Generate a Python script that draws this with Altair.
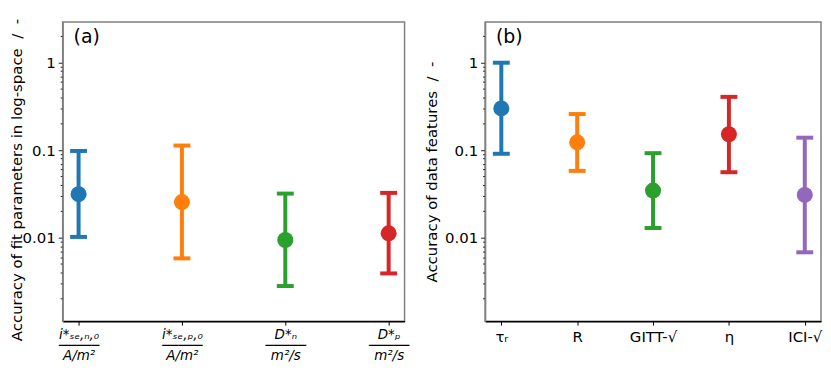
import altair as alt
import pandas as pd

# ---- data ----
labels_a = ["i*ₛₑ,ₙ,₀\n─────\nA/m²", "i*ₛₑ,ₚ,₀\n─────\nA/m²", "D*ₙ\n─────\nm²/s", "D*ₚ\n─────\nm²/s"]
center_a = [0.0314, 0.0255, 0.0094, 0.0112]
low_a = [0.0102, 0.0058, 0.0028, 0.0039]
high_a = [0.098, 0.113, 0.0319, 0.0325]

labels_b = ["τᵣ", "R", "GITT-√", "η", "ICI-√"]
center_b = [0.30, 0.123, 0.0345, 0.152, 0.0308]
low_b = [0.091, 0.058, 0.0129, 0.056, 0.0068]
high_b = [1.0, 0.259, 0.0925, 0.407, 0.139]

title_a = "Accuracy of fit parameters in log-space \u00a0/\u00a0 -"
title_b = "Accuracy of data features \u00a0/\u00a0 -"

colors = ["#1f77b4", "#ff7f0e", "#2ca02c", "#d62728", "#9467bd"]
y_ticks = [0.002, 0.003, 0.004, 0.005, 0.006, 0.007, 0.008, 0.009, 0.01,
           0.02, 0.03, 0.04, 0.05, 0.06, 0.07, 0.08, 0.09, 0.1,
           0.2, 0.3, 0.4, 0.5, 0.6, 0.7, 0.8, 0.9, 1, 2]
y_domain = [0.00111, 2.92]

FONT = "DejaVu Sans"
major_test = "datum.value == 1 || datum.value == 0.1 || datum.value == 0.01"


def panel(labels, center, low, high, tag, ytitle, padding, xaxis, title_y, title_pad, width):
    df = pd.DataFrame({"cat": labels, "c": center, "lo": low, "hi": high})
    xenc = alt.X("cat:N", sort=labels, scale=alt.Scale(type="point", padding=padding), axis=xaxis)
    yscale = alt.Scale(type="log", domain=y_domain, nice=False)
    yaxis = alt.Axis(
        title=ytitle, values=y_ticks, labelOverlap=False, grid=False,
        labelExpr="datum.value == 1 ? '1' : datum.value == 0.1 ? '0.1' : datum.value == 0.01 ? '0.01' : ''",
        tickSize={"condition": {"test": major_test, "value": 4.5}, "value": 2.5},
        tickColor="#222222", tickWidth=1, domainColor="#808080", domainWidth=1.5,
        labelFontSize=15, labelPadding=3, titleFontSize=15, titleFontWeight="normal",
        titleY=title_y, titlePadding=title_pad,
    )
    col = alt.Color("cat:N", scale=alt.Scale(domain=labels, range=colors[:len(labels)]), legend=None)
    base = alt.Chart(df)
    rule = base.mark_rule(strokeWidth=4).encode(
        x=xenc, y=alt.Y("lo:Q", scale=yscale, axis=yaxis), y2="hi:Q", color=col)
    cap_lo = base.mark_tick(thickness=4, size=17, opacity=1).encode(x=xenc, y=alt.Y("lo:Q", scale=yscale), color=col)
    cap_hi = base.mark_tick(thickness=4, size=17, opacity=1).encode(x=xenc, y=alt.Y("hi:Q", scale=yscale), color=col)
    dots = base.mark_circle(size=260, opacity=1).encode(x=xenc, y=alt.Y("c:Q", scale=yscale), color=col)
    txt = alt.Chart(pd.DataFrame({"t": [tag]})).mark_text(
        align="left", baseline="alphabetic", fontSize=19, font=FONT, color="black"
    ).encode(text="t:N", x=alt.value(11), y=alt.value(21))
    return alt.layer(rule, cap_lo, cap_hi, dots, txt).properties(width=width, height=301)


xaxis_a = alt.Axis(title=None, labelAngle=0, labelFontSize=13.5, labelFontStyle="italic",
                   labelExpr="split(datum.label, '\\n')",
                   labelLineHeight=11, labelPadding=2, tickSize=4, tickColor="black",
                   domainColor="black", domainWidth=1.5, labelBaseline="top")
xaxis_b = alt.Axis(title=None, labelAngle=0, labelFontSize=15, labelPadding=4, tickSize=4,
                   tickColor="black", domainColor="black", domainWidth=1.5, labelBaseline="top")

left = panel(labels_a, center_a, low_a, high_a, "(a)", title_a, 0.154, xaxis_a, 158.5, -2, 344)
right = panel(labels_b, center_b, low_b, high_b, "(b)", title_b, 0.214, xaxis_b, 150.5, 5, 338)

chart = alt.hconcat(left, right, spacing=13).resolve_scale(color="independent").properties(
    padding={"left": 0, "top": 8, "right": 0, "bottom": 0}
).configure(
    font=FONT
).configure_view(stroke="#808080", strokeWidth=1.5).configure_axis(
    labelFont=FONT, titleFont=FONT, labelColor="black", titleColor="black"
)

chart.save("out.html", embed_options={"renderer": "svg", "actions": False})
